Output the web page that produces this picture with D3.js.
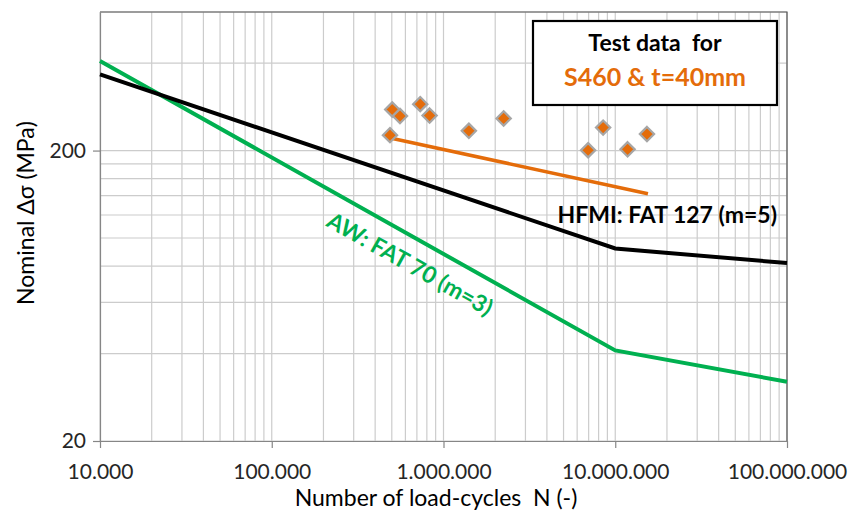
<!DOCTYPE html>
<html>
<head>
<meta charset="utf-8">
<script src="https://cdn.jsdelivr.net/npm/d3@7"></script>
<style>
  body { margin: 0; background: #fff; }
  svg { font-family: Lato, "Open Sans", sans-serif; }
  .keep-space { white-space: pre; }
</style>
</head>
<body>
<div id="chart"></div>
<script>
// S-N curves (N, nominal stress range in MPa)
const hfmiCurve = [[1e4, 366], [1e7, 92], [1e8, 82]];
const awCurve = [[1e4, 407], [1e7, 41], [1e8, 32]];
// test data S460, t = 40 mm
const testN = [5.03e5, 5.58e5, 7.32e5, 8.3e5, 4.88e5, 1.405e6, 2.24e6, 6.95e6, 8.5e6, 1.18e7, 1.53e7];
const testS = [277, 263, 289, 264, 226, 234, 258, 200.5, 240, 202, 228];
const fitLine = [[4.9e5, 221], [1.55e7, 142]];

const xTicks = [1e4, 1e5, 1e6, 1e7, 1e8];
const yTicks = [20, 200];
const xDomain = [1e4, 1e8];
const yDomain = [20, 600];

const width = 861, height = 514;
const margin = {top: 12, right: 74, bottom: 73, left: 100};

const svg = d3.select("#chart").append("svg")
  .attr("width", width)
  .attr("height", height);

let x = d3.scaleLog()
  .domain(xDomain)
  .range([margin.left, width - margin.right]);

let y = d3.scaleLog()
  .domain(yDomain)
  .range([height - margin.bottom, margin.top]);

// minor grid: 2..9 x each decade on N, 20*k steps on stress
let xGrid = [];
for (let e = 4; e < 8; e++) {
  for (let k = 1; k < 10; k++) xGrid.push(k * Math.pow(10, e));
}
xGrid.push(1e8);
let yGrid = [];
[20, 200].forEach(b => { for (let k = 1; k < 10; k++) { if (b * k <= 600) yGrid.push(b * k); } });

svg.append("g")
  .selectAll("line")
  .data(xGrid)
  .enter().append("line")
    .attr("x1", d => x(d)).attr("x2", d => x(d))
    .attr("y1", y(yDomain[0])).attr("y2", y(yDomain[1]))
    .attr("stroke", "#cccccc")
    .attr("stroke-width", 1.2);

svg.append("g")
  .selectAll("line")
  .data(yGrid)
  .enter().append("line")
    .attr("x1", x(xDomain[0])).attr("x2", x(xDomain[1]))
    .attr("y1", d => y(d)).attr("y2", d => y(d))
    .attr("stroke", "#cccccc")
    .attr("stroke-width", 1.2);

// frame top/right
svg.append("path")
  .attr("d", `M${x(xDomain[0])},${y(yDomain[1])}H${x(xDomain[1])}V${y(yDomain[0])}`)
  .attr("fill", "none")
  .attr("stroke", "#555")
  .attr("stroke-width", 1.2);

let fmt = d3.format(",");
let xAxis = g => g
  .attr("transform", `translate(0,${y(yDomain[0])})`)
  .call(d3.axisBottom(x)
    .tickValues(xTicks)
    .tickSize(7)
    .tickSizeOuter(0)
    .tickFormat(d => fmt(d).replace(/,/g, ".")));

let yAxis = g => g
  .attr("transform", `translate(${x(xDomain[0])},0)`)
  .call(d3.axisLeft(y)
    .tickValues(yTicks)
    .tickSize(7)
    .tickSizeOuter(0)
    .tickFormat(d3.format("d")));

let gx = svg.append("g").call(xAxis);
let gy = svg.append("g").call(yAxis);
[gx, gy].forEach(g => {
  g.select(".domain").attr("stroke", "#868686").attr("stroke-width", 1.2);
  g.selectAll(".tick line").attr("stroke", "#868686").attr("stroke-width", 1.2);
  g.selectAll(".tick text")
    .attr("fill", "#262626")
    .style("font-size", "21px")
    .style("font-family", "Lato, sans-serif");
});
gx.selectAll(".tick text").attr("y", 38).attr("dy", 0);
gy.selectAll(".tick text").attr("x", -14);

let line = d3.line()
  .x(d => x(d[0]))
  .y(d => y(d[1]));

svg.append("path")
  .datum(awCurve)
  .attr("d", line)
  .attr("fill", "none")
  .attr("stroke", "#00b050")
  .attr("stroke-width", 4);

svg.append("path")
  .datum(hfmiCurve)
  .attr("d", line)
  .attr("fill", "none")
  .attr("stroke", "#000")
  .attr("stroke-width", 4);

svg.append("path")
  .datum(fitLine)
  .attr("d", line)
  .attr("fill", "none")
  .attr("stroke", "#e46c0a")
  .attr("stroke-width", 3.5);

let testData = testN.map((n, i) => ({n: n, s: testS[i]}));
svg.append("g")
  .selectAll("path")
  .data(testData)
  .enter().append("path")
    .attr("transform", d => `translate(${x(d.n)},${y(d.s)})`)
    .attr("d", d3.symbol().type(d3.symbolDiamond2).size(130))
    .attr("fill", "#e46c0a")
    .attr("stroke", "#a6a6a6")
    .attr("stroke-width", 2.2);

// labels
svg.append("text")
  .attr("x", 777)
  .attr("y", 223)
  .attr("text-anchor", "end")
  .attr("font-weight", "bold")
  .style("font-size", "23px")
  .attr("fill", "#000")
  .text("HFMI: FAT 127 (m=5)");

let awAngle = Math.atan2(y(awCurve[1][1]) - y(awCurve[0][1]), x(awCurve[1][0]) - x(awCurve[0][0])) * 180 / Math.PI;
svg.append("text")
  .attr("transform", `translate(406,271) rotate(${awAngle})`)
  .attr("text-anchor", "middle")
  .attr("font-weight", "bold")
  .style("font-size", "23px")
  .attr("fill", "#00b050")
  .text("AW: FAT 70 (m=3)");

// legend box
svg.append("rect")
  .attr("x", 533).attr("y", 21)
  .attr("width", 244).attr("height", 84)
  .attr("fill", "#fff")
  .attr("stroke", "#000")
  .attr("stroke-width", 2.2);

svg.append("text")
  .attr("class", "keep-space")
  .attr("x", 655).attr("y", 51)
  .attr("text-anchor", "middle")
  .attr("font-weight", "bold")
  .style("font-size", "23px")
  .attr("fill", "#000")
  .text("Test data  for");

svg.append("text")
  .attr("x", 655).attr("y", 86)
  .attr("text-anchor", "middle")
  .attr("font-weight", "bold")
  .style("font-size", "25px")
  .attr("fill", "#e46c0a")
  .text("S460 & t=40mm");

// axis titles
svg.append("text")
  .attr("transform", `translate(34,213) rotate(-90)`)
  .attr("text-anchor", "middle")
  .style("font-size", "23px")
  .attr("fill", "#000")
  .text("Nominal Δσ (MPa)");

svg.append("text")
  .attr("class", "keep-space")
  .attr("x", 436).attr("y", 506)
  .attr("text-anchor", "middle")
  .style("font-size", "23px")
  .attr("fill", "#000")
  .text("Number of load-cycles  N (-)");
</script>
</body>
</html>
